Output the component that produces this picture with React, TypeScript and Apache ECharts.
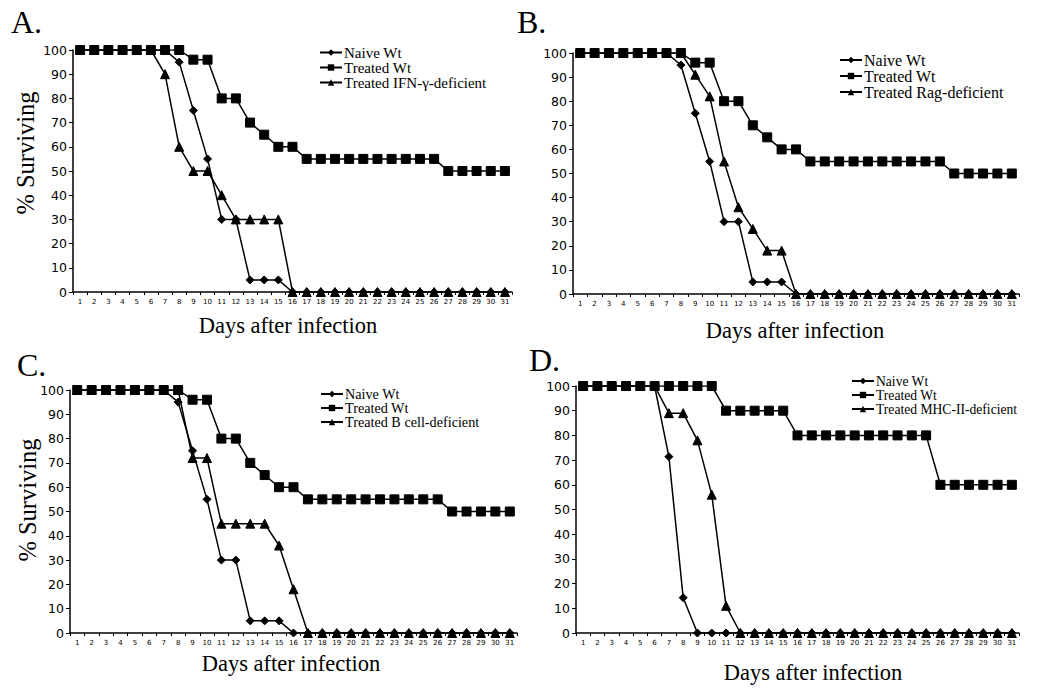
import React, { useEffect, useRef } from "react";
import * as echarts from "echarts";

const days = ["1","2","3","4","5","6","7","8","9","10","11","12","13","14","15","16","17","18","19","20","21","22","23","24","25","26","27","28","29","30","31"];
const yTicks = [0, 100, 10]; // min, max, interval

// Panel A
const aNaive = [100,100,100,100,100,100,100,95,75,55,30,30,5,5,5,0,0,0,0,0,0,0,0,0,0,0,0,0,0,0,0];
const aTreated = [100,100,100,100,100,100,100,100,96,96,80,80,70,65,60,60,55,55,55,55,55,55,55,55,55,55,50,50,50,50,50];
const aIFN = [100,100,100,100,100,100,90,60,50,50,40,30,30,30,30,0,0,0,0,0,0,0,0,0,0,0,0,0,0,0,0];
// Panel B
const bNaive = [100,100,100,100,100,100,100,95,75,55,30,30,5,5,5,0,0,0,0,0,0,0,0,0,0,0,0,0,0,0,0];
const bTreated = [100,100,100,100,100,100,100,100,96,96,80,80,70,65,60,60,55,55,55,55,55,55,55,55,55,55,50,50,50,50,50];
const bRag = [100,100,100,100,100,100,100,100,91,82,55,36,27,18,18,0,0,0,0,0,0,0,0,0,0,0,0,0,0,0,0];
// Panel C
const cNaive = [100,100,100,100,100,100,100,95,75,55,30,30,5,5,5,0,0,0,0,0,0,0,0,0,0,0,0,0,0,0,0];
const cTreated = [100,100,100,100,100,100,100,100,96,96,80,80,70,65,60,60,55,55,55,55,55,55,55,55,55,55,50,50,50,50,50];
const cBcell = [100,100,100,100,100,100,100,100,72,72,45,45,45,45,36,18,0,0,0,0,0,0,0,0,0,0,0,0,0,0,0];
// Panel D
const dNaive = [100,100,100,100,100,100,71.4,14.3,0,0,0,0,0,0,0,0,0,0,0,0,0,0,0,0,0,0,0,0,0,0,0];
const dTreated = [100,100,100,100,100,100,100,100,100,100,90,90,90,90,90,80,80,80,80,80,80,80,80,80,80,60,60,60,60,60,60];
const dMHC = [100,100,100,100,100,100,89,89,78,56,11,0,0,0,0,0,0,0,0,0,0,0,0,0,0,0,0,0,0,0,0];

const panelLetters = ["A.", "B.", "C.", "D."];
const thirdNames = ["Treated IFN-γ-deficient", "Treated Rag-deficient", "Treated B cell-deficient", "Treated MHC-II-deficient"];
const panelData = [
  [aNaive, aTreated, aIFN],
  [bNaive, bTreated, bRag],
  [cNaive, cTreated, cBcell],
  [dNaive, dTreated, dMHC],
];

const SERIF = "'Liberation Serif', 'DejaVu Serif', serif";
const SANS = "'DejaVu Sans', Verdana, sans-serif";

// layout
const grids = [
  { left: 73, top: 50, width: 439, height: 242 },
  { left: 573, top: 53, width: 446, height: 241 },
  { left: 70, top: 390, width: 447, height: 243 },
  { left: 576, top: 386, width: 443, height: 247 },
];
const legendPos = [
  { left: 319, top: 45, size: 15 },
  { left: 839, top: 52, size: 16 },
  { left: 320, top: 387, size: 14.2 },
  { left: 851, top: 374, size: 13.6 },
];
const letterPos = [
  { x: 11, y: 6 },
  { x: 517, y: 6 },
  { x: 17, y: 349 },
  { x: 529, y: 344 },
];
const xNamePos = [
  { x: 288, y: 325 },
  { x: 795, y: 330 },
  { x: 291, y: 663 },
  { x: 813, y: 672 },
];
const yNamePos = [
  { x: 25, y: 153 },
  null,
  { x: 27, y: 500 },
  null,
];

export default function App() {
  const ref = useRef<HTMLDivElement>(null);
  useEffect(() => {
    if (!ref.current) return;
    const chart = echarts.init(ref.current, null, { renderer: "svg" });
    const xAxis: any[] = [];
    const yAxis: any[] = [];
    const series: any[] = [];
    const legend: any[] = [];
    const graphic: any[] = [];
    grids.forEach((g, i) => {
      xAxis.push({
        type: "category",
        gridIndex: i,
        data: days,
        boundaryGap: true,
        axisLine: { lineStyle: { color: "#000", width: 1.5 } },
        axisTick: { show: true, length: 3, lineStyle: { color: "#000", width: 1 } },
        axisLabel: { fontSize: 7, color: "#000", fontFamily: SANS, margin: 6, interval: 0 },
        splitLine: { show: false },
      });
      yAxis.push({
        type: "value",
        gridIndex: i,
        min: yTicks[0],
        max: yTicks[1],
        interval: yTicks[2],
        axisLine: { show: true, lineStyle: { color: "#000", width: 1.5 } },
        axisTick: { show: true, length: 4, lineStyle: { color: "#000", width: 1 } },
        axisLabel: { fontSize: 12.5, color: "#000", fontFamily: SANS, margin: 6 },
        splitLine: { show: false },
      });
      const names = ["Naive Wt", "Treated Wt", thirdNames[i]];
      const symbols = ["diamond", "rect", "triangle"];
      const sizes = [8, 9, 9];
      panelData[i].forEach((vals, k) => {
        series.push({
          type: "line",
          name: names[k],
          xAxisIndex: i,
          yAxisIndex: i,
          data: vals,
          symbol: symbols[k],
          symbolSize: sizes[k],
          showAllSymbol: true,
          lineStyle: { color: "#000", width: 1.5 },
          itemStyle: { color: "#000", borderColor: "#000" },
          z: k === 0 ? 2 : k === 1 ? 3 : 4,
        });
      });
      const lp = legendPos[i];
      legend.push({
        data: names,
        orient: "vertical",
        left: lp.left,
        top: lp.top,
        itemWidth: 22,
        itemHeight: 8,
        itemGap: 0,
        padding: 0,
        selectedMode: false,
        textStyle: { fontFamily: SERIF, fontSize: lp.size, color: "#000", padding: [0, 0, 0, -3] },
      });
      graphic.push({
        type: "text",
        left: letterPos[i].x,
        top: letterPos[i].y,
        style: { text: panelLetters[i], font: `32px ${SERIF}`, fill: "#000" },
      });
      graphic.push({
        type: "text",
        x: xNamePos[i].x,
        y: xNamePos[i].y,
        style: { text: "Days after infection", font: `22.5px ${SERIF}`, fill: "#000", align: "center", verticalAlign: "middle" },
      });
      const yp = yNamePos[i];
      if (yp) {
        graphic.push({
          type: "text",
          x: yp.x,
          y: yp.y,
          rotation: Math.PI / 2,
          style: { text: "% Surviving", font: `24.5px ${SERIF}`, fill: "#000", align: "center", verticalAlign: "middle" },
        });
      }
    });
    chart.setOption({
      animation: false,
      backgroundColor: "#fff",
      grid: grids.map((g) => ({ ...g, containLabel: false })),
      xAxis,
      yAxis,
      series,
      legend,
      graphic,
    });
    return () => chart.dispose();
  }, []);
  return (
    <div
      ref={ref}
      style={{ position: "fixed", left: 0, top: 0, width: 1050, height: 692, background: "#fff" }}
    />
  );
}
